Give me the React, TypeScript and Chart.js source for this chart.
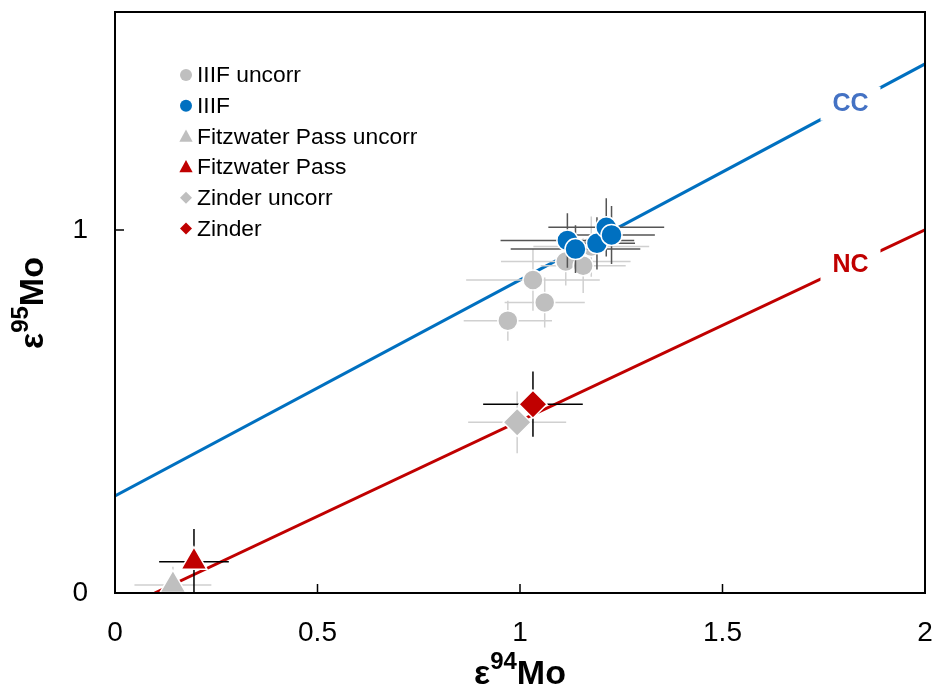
import React, { useEffect, useRef } from 'react';
import { Chart, registerables } from 'chart.js';

Chart.register(...registerables);

const FONT = '"Liberation Sans", Arial, Helvetica, sans-serif';

// ---- data ----
const iiifUncorrX = [0.970, 1.061, 1.032, 1.113, 1.156, 1.176];
const iiifUncorrY = [0.750, 0.800, 0.862, 0.913, 0.901, 0.954];
const iiifUncorrXErr = [0.109, 0.099, 0.165, 0.160, 0.105, 0.143];
const iiifUncorrYErr = [0.055, 0.069, 0.085, 0.066, 0.075, 0.083];

const iiifX = [1.117, 1.137, 1.190, 1.213, 1.226];
const iiifY = [0.971, 0.947, 0.963, 1.007, 0.986];
const iiifXErr = [0.165, 0.160, 0.094, 0.143, 0.107];
const iiifYErr = [0.075, 0.066, 0.072, 0.080, 0.080];

const fitzUncorrX = [0.143];
const fitzUncorrY = [0.022];
const fitzUncorrXErr = [0.095];
const fitzUncorrYErr = [0.05];

const fitzX = [0.195];
const fitzY = [0.086];
const fitzXErr = [0.086];
const fitzYErr = [0.09];

const zinderUncorrX = [0.993];
const zinderUncorrY = [0.470];
const zinderUncorrXErr = [0.121];
const zinderUncorrYErr = [0.085];

const zinderX = [1.032];
const zinderY = [0.520];
const zinderXErr = [0.123];
const zinderYErr = [0.09];

const ccLineX = [0, 2];
const ccLineY = [0.267, 1.457];
const ncLineX = [0.098, 2];
const ncLineY = [0, 1.0];

const xTickValues = [0, 0.5, 1, 1.5, 2];
const yTickValues = [0, 1];

const legendLabels = [
  'IIIF uncorr',
  'IIIF',
  'Fitzwater Pass uncorr',
  'Fitzwater Pass',
  'Zinder uncorr',
  'Zinder',
];

const GRAY = '#BFBFBF';
const BLUE = '#0070C0';
const RED = '#C00000';

function pts(xs: number[], ys: number[], xe?: number[], ye?: number[]) {
  return xs.map((x, i) => ({ x, y: ys[i], xe: xe ? xe[i] : 0, ye: ye ? ye[i] : 0 }));
}

function drawMarker(ctx: CanvasRenderingContext2D, style: string, x: number, y: number, r: number) {
  ctx.beginPath();
  if (style === 'circle') {
    ctx.arc(x, y, r, 0, Math.PI * 2);
  } else if (style === 'triangle') {
    ctx.moveTo(x, y - r);
    ctx.lineTo(x + r * 0.95, y + r * 0.75);
    ctx.lineTo(x - r * 0.95, y + r * 0.75);
    ctx.closePath();
  } else {
    ctx.moveTo(x, y - r);
    ctx.lineTo(x + r, y);
    ctx.lineTo(x, y + r);
    ctx.lineTo(x - r, y);
    ctx.closePath();
  }
  ctx.fill();
}

const errorBarPlugin = {
  id: 'errorBars',
  beforeDatasetDraw(chart: any, args: any) {
    const ds: any = chart.data.datasets[args.index];
    if (!ds.errColor) return;
    const { ctx, chartArea } = chart;
    const xs = chart.scales.x;
    const ys = chart.scales.y;
    ctx.save();
    ctx.beginPath();
    ctx.rect(chartArea.left, chartArea.top, chartArea.right - chartArea.left, chartArea.bottom - chartArea.top);
    ctx.clip();
    ctx.strokeStyle = ds.errColor;
    ctx.lineWidth = 1.5;
    ds.data.forEach((d: any) => {
      const px = xs.getPixelForValue(d.x);
      const py = ys.getPixelForValue(d.y);
      ctx.beginPath();
      ctx.moveTo(xs.getPixelForValue(d.x - d.xe), py);
      ctx.lineTo(xs.getPixelForValue(d.x + d.xe), py);
      ctx.moveTo(px, ys.getPixelForValue(d.y - d.ye));
      ctx.lineTo(px, ys.getPixelForValue(d.y + d.ye));
      ctx.stroke();
    });
    ctx.restore();
  },
};

const decorPlugin = {
  id: 'decor',
  afterDatasetsDraw(chart: any) {
    const { ctx } = chart;
    const xs = chart.scales.x;
    const ys = chart.scales.y;
    const labels = [
      { text: 'CC', color: '#4472C4', x: 1.816, line: [ccLineX, ccLineY] },
      { text: 'NC', color: RED, x: 1.816, line: [ncLineX, ncLineY] },
    ];
    ctx.save();
    labels.forEach((l) => {
      const [lx, ly] = l.line;
      const t = (l.x - lx[0]) / (lx[1] - lx[0]);
      const yv = ly[0] + t * (ly[1] - ly[0]);
      const px = xs.getPixelForValue(l.x);
      const py = ys.getPixelForValue(yv);
      ctx.fillStyle = '#FFFFFF';
      ctx.fillRect(px - 30, py - 17, 60, 34);
      ctx.fillStyle = l.color;
      ctx.font = `bold 25px ${FONT}`;
      ctx.textAlign = 'center';
      ctx.textBaseline = 'middle';
      ctx.fillText(l.text, px, py);
    });
    ctx.restore();
  },
  afterDraw(chart: any) {
    const { ctx, chartArea } = chart;
    const xs = chart.scales.x;
    const ys = chart.scales.y;
    ctx.save();
    // frame
    ctx.strokeStyle = '#000';
    ctx.lineWidth = 2;
    ctx.strokeRect(chartArea.left, chartArea.top, chartArea.right - chartArea.left, chartArea.bottom - chartArea.top);
    // inward ticks
    ctx.lineWidth = 1.5;
    ctx.beginPath();
    xTickValues.forEach((v) => {
      const px = xs.getPixelForValue(v);
      ctx.moveTo(px, chartArea.bottom);
      ctx.lineTo(px, chartArea.bottom - 9);
    });
    yTickValues.forEach((v) => {
      const py = ys.getPixelForValue(v);
      ctx.moveTo(chartArea.left, py);
      ctx.lineTo(chartArea.left + 9, py);
    });
    ctx.stroke();

    // legend
    const markers = [
      { style: 'circle', color: GRAY, r: 6 },
      { style: 'circle', color: BLUE, r: 6 },
      { style: 'triangle', color: GRAY, r: 7 },
      { style: 'triangle', color: RED, r: 7 },
      { style: 'diamond', color: GRAY, r: 6 },
      { style: 'diamond', color: RED, r: 6 },
    ];
    ctx.font = `22.8px ${FONT}`;
    ctx.textAlign = 'left';
    ctx.textBaseline = 'middle';
    legendLabels.forEach((lab, i) => {
      const y = 75 + i * 30.7;
      ctx.fillStyle = markers[i].color;
      drawMarker(ctx, markers[i].style, 186, y, markers[i].r);
      ctx.fillStyle = '#000';
      ctx.fillText(lab, 197, y + 1);
    });

    // axis titles
    const drawTitle = (sup: string) => {
      ctx.font = `bold 34px ${FONT}`;
      const wE = ctx.measureText('ε').width;
      const wM = ctx.measureText('Mo').width;
      ctx.font = `bold 24px ${FONT}`;
      const wS = ctx.measureText(sup).width;
      const total = wE + wS + wM;
      let x = -total / 2;
      ctx.textAlign = 'left';
      ctx.textBaseline = 'alphabetic';
      ctx.fillStyle = '#000';
      ctx.font = `bold 34px ${FONT}`;
      ctx.fillText('ε', x, 0);
      x += wE;
      ctx.font = `bold 24px ${FONT}`;
      ctx.fillText(sup, x, -15);
      x += wS;
      ctx.font = `bold 34px ${FONT}`;
      ctx.fillText('Mo', x, 0);
    };
    ctx.save();
    ctx.translate((chartArea.left + chartArea.right) / 2, 684);
    drawTitle('94');
    ctx.restore();
    ctx.save();
    ctx.translate(43, 303);
    ctx.rotate(-Math.PI / 2);
    drawTitle('95');
    ctx.restore();

    ctx.restore();
  },
};

const zeroPadding = (scale: any) => {
  scale.paddingLeft = 0;
  scale.paddingRight = 0;
  scale.paddingTop = 0;
  scale.paddingBottom = 0;
};

export default function App() {
  const canvasRef = useRef<HTMLCanvasElement | null>(null);

  useEffect(() => {
    if (!canvasRef.current) return;
    const scatterBase = {
      type: 'scatter' as const,
      showLine: false,
      pointBorderColor: '#FFFFFF',
      pointBorderWidth: 1.5,
    };
    const chart = new Chart(canvasRef.current, {
      type: 'scatter',
      data: {
        datasets: [
          {
            type: 'line',
            label: 'CC',
            data: pts(ccLineX, ccLineY),
            borderColor: BLUE,
            borderWidth: 3,
            pointRadius: 0,
            fill: false,
            order: 10,
          } as any,
          {
            type: 'line',
            label: 'NC',
            data: pts(ncLineX, ncLineY),
            borderColor: RED,
            borderWidth: 3,
            pointRadius: 0,
            fill: false,
            order: 10,
          } as any,
          {
            ...scatterBase,
            label: legendLabels[0],
            data: pts(iiifUncorrX, iiifUncorrY, iiifUncorrXErr, iiifUncorrYErr),
            pointStyle: 'circle',
            pointRadius: 10,
            pointBackgroundColor: GRAY,
            errColor: '#D0D0D0',
            order: 6,
          } as any,
          {
            ...scatterBase,
            label: legendLabels[2],
            data: pts(fitzUncorrX, fitzUncorrY, fitzUncorrXErr, fitzUncorrYErr),
            pointStyle: 'triangle',
            pointRadius: 15,
            pointBackgroundColor: GRAY,
            errColor: '#D0D0D0',
            order: 5,
          } as any,
          {
            ...scatterBase,
            label: legendLabels[4],
            data: pts(zinderUncorrX, zinderUncorrY, zinderUncorrXErr, zinderUncorrYErr),
            pointStyle: 'rectRot',
            pointRadius: 14,
            pointBackgroundColor: GRAY,
            errColor: '#D0D0D0',
            order: 4,
          } as any,
          {
            ...scatterBase,
            label: legendLabels[1],
            data: pts(iiifX, iiifY, iiifXErr, iiifYErr),
            pointStyle: 'circle',
            pointRadius: 10.5,
            pointBackgroundColor: BLUE,
            errColor: '#555555',
            order: 3,
          } as any,
          {
            ...scatterBase,
            label: legendLabels[3],
            data: pts(fitzX, fitzY, fitzXErr, fitzYErr),
            pointStyle: 'triangle',
            pointRadius: 15,
            pointBackgroundColor: RED,
            errColor: '#000000',
            order: 2,
          } as any,
          {
            ...scatterBase,
            label: legendLabels[5],
            data: pts(zinderX, zinderY, zinderXErr, zinderYErr),
            pointStyle: 'rectRot',
            pointRadius: 14,
            pointBackgroundColor: RED,
            errColor: '#000000',
            order: 1,
          } as any,
        ],
      },
      options: {
        animation: false,
        responsive: false,
        events: [],
        layout: { padding: { top: 12, right: 11, left: 0, bottom: 0 }, autoPadding: false },
        plugins: {
          legend: { display: false },
          tooltip: { enabled: false },
        },
        scales: {
          x: {
            type: 'linear',
            min: 0,
            max: 2,
            afterBuildTicks: (scale: any) => {
              scale.ticks = xTickValues.map((v) => ({ value: v }));
            },
            afterFit: (scale: any) => {
              scale.height = 100;
              zeroPadding(scale);
            },
            grid: { display: false, drawTicks: false },
            border: { display: false },
            ticks: {
              color: '#000',
              padding: 23,
              font: { family: FONT, size: 28 },
              maxRotation: 0,
              callback: (v: any) => String(v),
            },
          },
          y: {
            type: 'linear',
            min: 0,
            max: 1.6,
            afterBuildTicks: (scale: any) => {
              scale.ticks = yTickValues.map((v) => ({ value: v }));
            },
            afterFit: (scale: any) => {
              scale.width = 115;
              zeroPadding(scale);
            },
            grid: { display: false, drawTicks: false },
            border: { display: false },
            ticks: {
              color: '#000',
              padding: 27,
              font: { family: FONT, size: 28 },
              callback: (v: any) => String(v),
            },
          },
        },
      } as any,
      plugins: [errorBarPlugin, decorPlugin],
    });
    return () => chart.destroy();
  }, []);

  return (
    <div style={{ position: 'fixed', left: 0, top: 0, width: 936, height: 693, background: '#fff' }}>
      <canvas ref={canvasRef} width={936} height={693} style={{ width: 936, height: 693 }} />
    </div>
  );
}
